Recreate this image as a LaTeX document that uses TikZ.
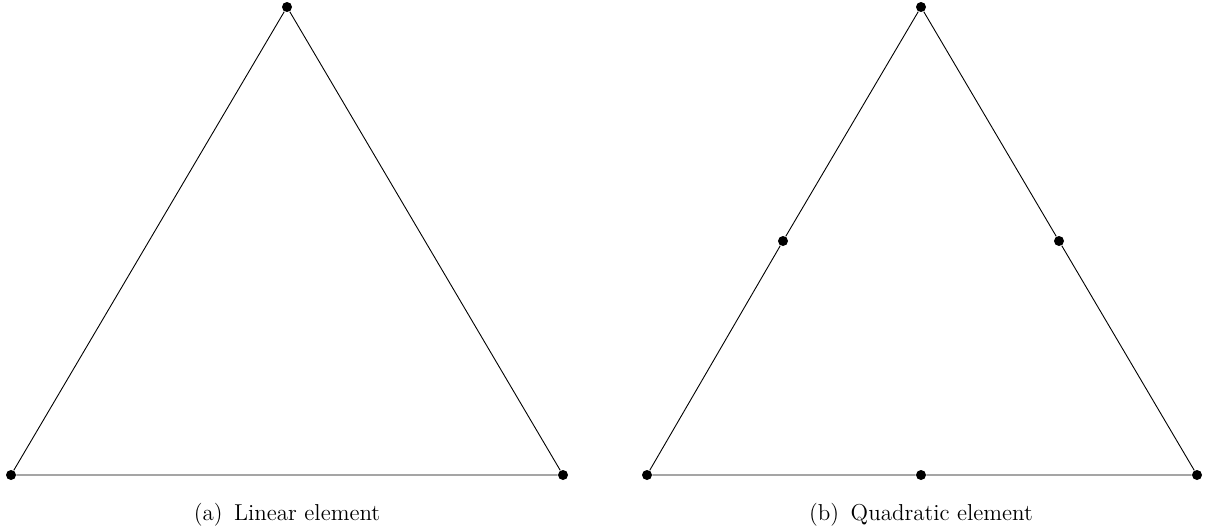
\documentclass[tikz,border=0pt]{standalone}
\begin{document}
\begin{tikzpicture}[x=0.5pt,y=-0.5pt,
  vtx/.style={circle,fill=black,inner sep=0pt,minimum size=5pt},
  triline/.style={line width=0.45pt},
  captext/.style={font=\fontsize{11.5}{13.5}\selectfont,anchor=center}]
\useasboundingbox (0,0) rectangle (1210,531);
% (a) linear
\node[vtx] (a1) at (11,475) {};
\node[vtx] (a2) at (563,475) {};
\node[vtx] (a3) at (287,7) {};
\draw[triline] (a1) -- (a2) -- (a3) -- (a1);
\node[captext] (capa) at (287,515) {(a)\hspace{0.5em}Linear element};
% (b) quadratic
\node[vtx] (b1) at (647,475) {};
\node[vtx] (b2) at (1197,475) {};
\node[vtx] (b3) at (921,7) {};
\node[vtx] (b4) at (921,475) {};
\node[vtx] (b5) at (1059,241) {};
\node[vtx] (b6) at (783,241) {};
\draw[triline] (b1) -- (b4) -- (b2) -- (b5) -- (b3) -- (b6) -- (b1);
\node[captext] (capb) at (921,515) {(b)\hspace{0.5em}Quadratic element};
\end{tikzpicture}
\end{document}
